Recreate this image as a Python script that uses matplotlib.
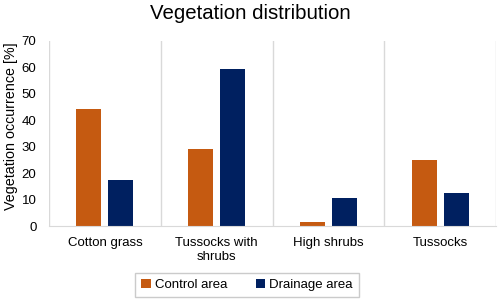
import numpy as np
import matplotlib.pyplot as plt

plt.rcParams['font.family'] = ['Liberation Sans', 'DejaVu Sans']

categories = ["Cotton grass", "Tussocks with\nshrubs", "High shrubs", "Tussocks"]
control = [44.3, 29.2, 1.4, 25.0]
drainage = [17.4, 59.5, 10.5, 12.4]

fig = plt.figure(figsize=(5, 3.01), dpi=100)
ax = fig.add_axes([0.098, 0.249, 0.894, 0.615])

x = np.arange(len(categories))
w = 0.225
ax.bar(x - 0.143, control, w, color="#C55A11", label="Control area")
ax.bar(x + 0.143, drainage, w, color="#002060", label="Drainage area")

ax.set_xlim(-0.5, len(categories) - 0.5)
ax.set_ylim(0, 70)
ax.set_yticks(range(0, 71, 10))
ax.set_xticks(x)
ax.set_xticklabels(categories, fontsize=9.5)
ax.tick_params(axis='y', labelsize=9.5, length=0, pad=9)
ax.tick_params(axis='x', length=0, pad=8)

# category separators
for b in np.arange(-0.5, len(categories), 1):
    ax.axvline(b, color="#D9D9D9", lw=1, zorder=0)
for s in ["top", "right", "left"]:
    ax.spines[s].set_visible(False)
ax.spines["bottom"].set_color("#D9D9D9")

fig.text(0.022, 0.58, "Vegetation occurrence [%]", rotation=90,
         ha="center", va="center", fontsize=10.3)
fig.text(0.5, 0.955, "Vegetation distribution", ha="center", va="center", fontsize=14.7)

leg = fig.legend(loc="center", bbox_to_anchor=(0.494, 0.053), ncol=2, fontsize=9.5,
                 frameon=True, fancybox=False, edgecolor="#BFBFBF",
                 handlelength=0.7, handleheight=0.7, handletextpad=0.3,
                 columnspacing=2.2, borderpad=0.45, borderaxespad=0)
leg.get_frame().set_linewidth(1)

fig.savefig("out.png", dpi=100)
